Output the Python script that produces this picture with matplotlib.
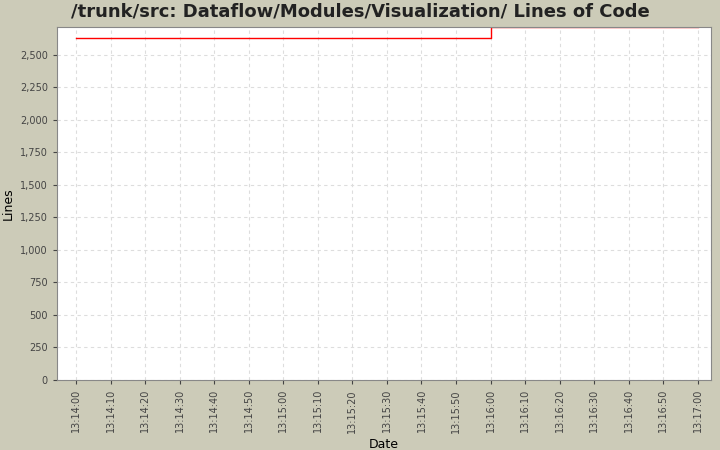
import matplotlib
matplotlib.use("Agg")
import matplotlib.pyplot as plt
import matplotlib.dates as mdates
from matplotlib.ticker import FuncFormatter
import datetime as dt

times = ["13:14:00", "13:16:00", "13:17:00"]
lines = [2631, 2715, 2715]

base = dt.datetime(2000, 1, 1)
def t(s):
    h, m, sec = map(int, s.split(":"))
    return base.replace(hour=h, minute=m, second=sec)
x = [t(s) for s in times]

fig = plt.figure(figsize=(7.2, 4.5), dpi=100, facecolor="#cccbb8")
ax = fig.add_axes([57/720, 70/450, 654/720, 353/450])
ax.set_facecolor("white")
ax.step(x, lines, where="post", color="red", lw=1)
ax.set_xlim(t("13:14:00") - dt.timedelta(seconds=5.5), t("13:17:00") + dt.timedelta(seconds=3.8))
ax.set_ylim(0, 2715)
ax.set_yticks(range(0, 2501, 250))
ax.yaxis.set_major_formatter(FuncFormatter(lambda v, p: f"{int(v):,}"))
ticks = [t("13:14:00") + dt.timedelta(seconds=10*i) for i in range(19)]
ax.set_xticks(ticks)
ax.xaxis.set_major_formatter(mdates.DateFormatter("%H:%M:%S"))
plt.setp(ax.get_xticklabels(), rotation=90)
ax.tick_params(labelsize=7, colors="#444444", length=3)
ax.grid(True, color="#dddddd", ls=(0, (3, 3)), lw=0.8)
for s in ax.spines.values():
    s.set_color("#888888")
ax.set_xlabel("Date", fontsize=9)
ax.set_ylabel("Lines", fontsize=9)
fig.suptitle("/trunk/src: Dataflow/Modules/Visualization/ Lines of Code", fontsize=13, fontweight="bold", y=0.995, color="#222222")
fig.savefig("out.png", dpi=100, facecolor=fig.get_facecolor())
